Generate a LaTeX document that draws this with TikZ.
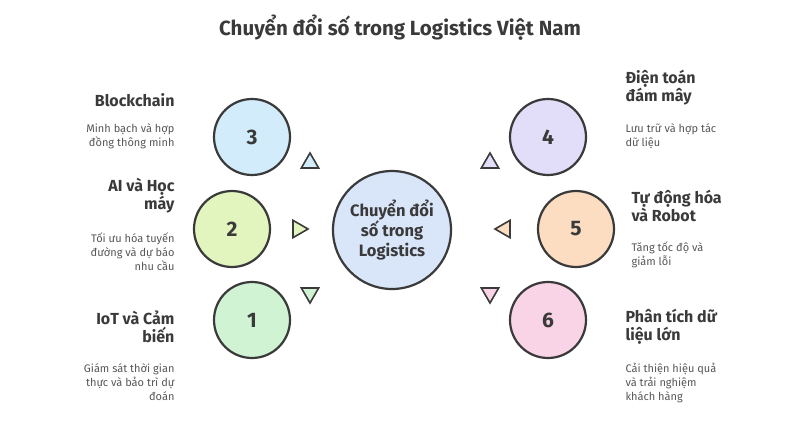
\documentclass[tikz,border=0pt]{standalone}
\usepackage{fontspec}
\setmainfont{Fira Sans}
\usetikzlibrary{positioning,shapes.geometric}
\definecolor{inkc}{HTML}{3A3A3A}
\definecolor{cthree}{HTML}{D2ECFB}
\definecolor{ctwo}{HTML}{E3F5BE}
\definecolor{cone}{HTML}{CFF3D3}
\definecolor{cfour}{HTML}{E2DDF8}
\definecolor{cfive}{HTML}{FCDDC2}
\definecolor{csix}{HTML}{F9D4E6}
\definecolor{ccenter}{HTML}{D9E6FA}
\tikzset{
	bubble/.style={circle, draw=inkc, line width=2.2pt, minimum size=76pt, font=\bfseries\fontsize{21}{23}\selectfont, text=inkc},
	hub/.style={circle, draw=inkc, line width=2.2pt, minimum size=118pt, align=center, font=\bfseries\fontsize{16.5}{20}\selectfont, text=inkc},
	tip/.style={regular polygon, regular polygon sides=3, draw=inkc, line width=1.6pt, minimum size=20pt, inner sep=0pt},
	head/.style={font=\bfseries\fontsize{16}{18}\selectfont, text=inkc},
	note/.style={font=\fontsize{11}{14}\selectfont, text=inkc!85},
}
\begin{document}
\begin{tikzpicture}[x=1pt,y=-1pt]
	\useasboundingbox[fill=white] (0,0) rectangle (807,441);
	
	%title
	\node[font=\bfseries\fontsize{20.5}{22}\selectfont, text=inkc] (title) at (400,28) {Chuyển đổi số trong Logistics Việt Nam};
	
	%hub
	\node[hub, fill=ccenter] (hub) at (392,230) {Chuyển đổi\\số trong\\Logistics};
	
	%left bubbles
	\node[bubble, fill=cthree] (b3) at (252,137) {3};
	\node[bubble, fill=ctwo]   (b2) at (232,229) {2};
	\node[bubble, fill=cone]   (b1) at (252,320) {1};
	
	%right bubbles
	\node[bubble, fill=cfour] (b4) at (548,137) {4};
	\node[bubble, fill=cfive] (b5) at (576,229) {5};
	\node[bubble, fill=csix]  (b6) at (548,320) {6};
	
	%pointers
	\node[tip, fill=cthree] (t3) at (310,163) {};
	\node[tip, fill=ctwo, shape border rotate=-90] (t2) at (298,229) {};
	\node[tip, fill=cone, shape border rotate=180] (t1) at (310,293) {};
	\node[tip, fill=cfour] (t4) at (490,163) {};
	\node[tip, fill=cfive, shape border rotate=90] (t5) at (505,229) {};
	\node[tip, fill=csix, shape border rotate=180] (t6) at (490,293) {};
	
	%left texts
	\node[head, anchor=east] (h3) at (178,100) {Blockchain};
	\node[note, anchor=north east, align=right] (n3) at (178,120) {Minh bạch và hợp\\đồng thông minh};
	\node[head, anchor=east, align=right] (h2) at (178,196) {AI và Học\\máy};
	\node[note, anchor=north east, align=right] (n2) at (178,229) {Tối ưu hóa tuyến\\đường và dự báo\\nhu cầu};
	\node[head, anchor=east, align=right] (h1) at (178,327) {IoT và Cảm\\biến};
	\node[note, anchor=north east, align=right] (n1) at (178,360) {Giám sát thời gian\\thực và bảo trì dự\\đoán};
	
	%right texts
	\node[head, anchor=west, align=left] (h4) at (622,88) {Điện toán\\đám mây};
	\node[note, anchor=north west, align=left] (n4) at (622,120) {Lưu trữ và hợp tác\\dữ liệu};
	\node[head, anchor=west, align=left] (h5) at (628,206) {Tự động hóa\\và Robot};
	\node[note, anchor=north west, align=left] (n5) at (628,238) {Tăng tốc độ và\\giảm lỗi};
	\node[head, anchor=west, align=left] (h6) at (622,327) {Phân tích dữ\\liệu lớn};
	\node[note, anchor=north west, align=left] (n6) at (622,360) {Cải thiện hiệu quả\\và trải nghiệm\\khách hàng};
\end{tikzpicture}
\end{document}
